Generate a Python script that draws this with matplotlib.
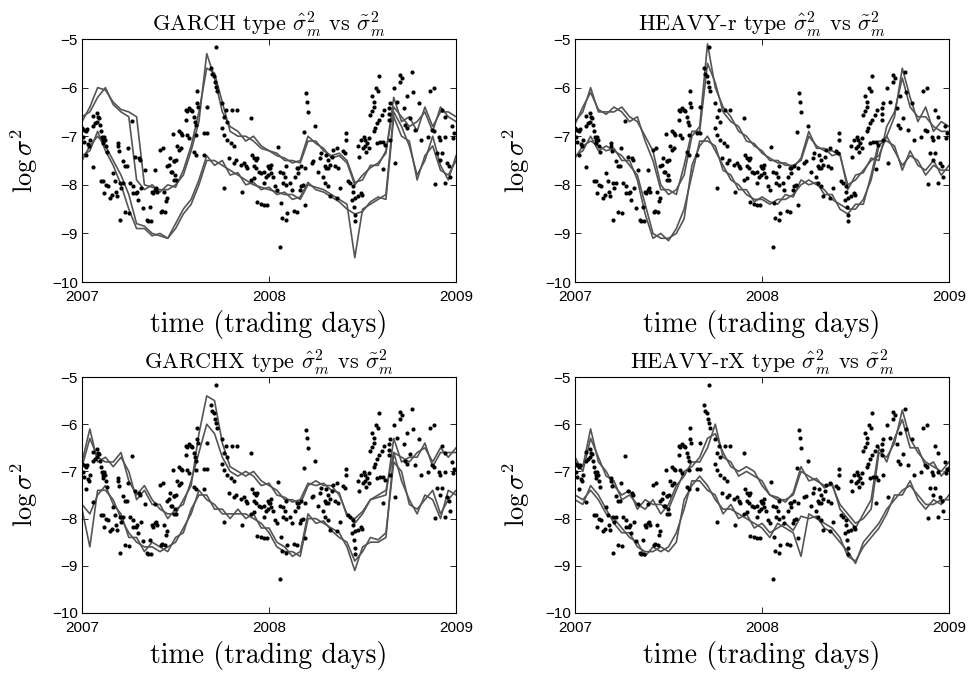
import numpy as np
import matplotlib
matplotlib.use('Agg')
import matplotlib.pyplot as plt

plt.rcParams['mathtext.fontset'] = 'cm'
plt.rcParams['font.family'] = ['Liberation Sans', 'DejaVu Sans']

# time axis: years since start of 2007, half-month grid
year_labels = ['2007', '2008', '2009']
t_grid = np.arange(49) / 24.0

titles = ['GARCH', 'HEAVY-r', 'GARCHX', 'HEAVY-rX']

# realized measure (dots), (years since 2007, log variance), one list per half year
rv_h1 = [(0.000, -6.84), (0.010, -6.87), (0.020, -6.90), (0.025, -6.86), (0.004, -7.01), (0.011, -7.11),
         (0.021, -7.38), (0.034, -7.16), (0.039, -7.21), (0.043, -7.08), (0.057, -6.79), (0.061, -6.58),
         (0.070, -6.73), (0.078, -6.70), (0.082, -6.53), (0.087, -6.60), (0.093, -6.63), (0.096, -6.77),
         (0.100, -6.90), (0.105, -7.01), (0.111, -7.08), (0.114, -7.14), (0.118, -7.02), (0.123, -7.08),
         (0.128, -7.21), (0.132, -7.32), (0.061, -7.64), (0.100, -7.92), (0.114, -7.93), (0.118, -8.17),
         (0.128, -8.01), (0.141, -8.03), (0.150, -8.27), (0.159, -8.21), (0.168, -7.76), (0.175, -7.93),
         (0.182, -8.14), (0.185, -8.24), (0.191, -7.14), (0.194, -7.21), (0.200, -7.31), (0.203, -7.97),
         (0.203, -8.72), (0.210, -8.07), (0.217, -7.97), (0.221, -7.52), (0.230, -8.55), (0.230, -7.62),
         (0.239, -7.62), (0.248, -7.25), (0.253, -8.58), (0.257, -7.97), (0.265, -6.68), (0.271, -8.03),
         (0.275, -8.17), (0.283, -7.42), (0.289, -8.17), (0.292, -8.14), (0.301, -8.31), (0.306, -7.45),
         (0.310, -7.49), (0.314, -8.07), (0.328, -8.48), (0.337, -7.69), (0.346, -8.72), (0.355, -8.75),
         (0.364, -8.45), (0.367, -8.75), (0.372, -8.14), (0.381, -8.17), (0.390, -8.10), (0.392, -7.69),
         (0.396, -8.07), (0.399, -8.14), (0.417, -7.28), (0.422, -8.55), (0.428, -8.53), (0.435, -7.25),
         (0.438, -8.14), (0.442, -8.55), (0.449, -8.34), (0.453, -8.27), (0.456, -7.62), (0.467, -7.59),
         (0.471, -7.45), (0.474, -7.73), (0.479, -7.73), (0.485, -6.96), (0.492, -7.52), (0.497, -7.79)]
rv_h2 = [(0.715, -5.16), (0.688, -5.60), (0.697, -5.71), (0.706, -5.77), (0.709, -5.88), (0.715, -5.98),
         (0.617, -6.08), (0.724, -6.08), (0.750, -6.32), (0.554, -6.46), (0.563, -6.49), (0.572, -6.42),
         (0.581, -6.46), (0.590, -6.49), (0.554, -6.66), (0.599, -6.60), (0.602, -6.70), (0.608, -6.77),
         (0.617, -6.32), (0.620, -6.39), (0.670, -6.39), (0.759, -6.60), (0.768, -6.46), (0.804, -6.46),
         (0.831, -6.46), (0.906, -6.62), (0.777, -6.70), (0.519, -6.90), (0.528, -6.94), (0.537, -6.97),
         (0.563, -6.97), (0.572, -7.04), (0.608, -6.97), (0.652, -6.94), (0.670, -6.94), (0.510, -7.21),
         (0.519, -7.28), (0.528, -7.25), (0.492, -7.52), (0.501, -7.49), (0.492, -7.90), (0.501, -7.90),
         (0.599, -7.32), (0.608, -7.38), (0.652, -7.38), (0.750, -6.84), (0.759, -6.97), (0.777, -7.08),
         (0.795, -7.14), (0.813, -7.21), (0.786, -7.45), (0.813, -7.55), (0.822, -7.49), (0.848, -7.59),
         (0.866, -7.55), (0.875, -7.62), (0.884, -7.66), (0.911, -7.38), (0.920, -7.45), (0.929, -7.49),
         (0.938, -7.45), (0.920, -7.62), (0.929, -7.66), (0.947, -7.73), (0.959, -7.76), (0.973, -7.73),
         (0.982, -7.83), (1.000, -7.66), (0.995, -7.79), (0.759, -8.07), (0.857, -8.14), (0.938, -8.36),
         (0.955, -8.39), (0.973, -8.41), (0.991, -8.42), (0.902, -7.90), (0.920, -7.86), (0.973, -7.97)]
rv_h3 = [(1.200, -6.12), (1.205, -6.29), (1.209, -6.51), (1.245, -6.79), (1.187, -6.92), (1.414, -6.94),
         (1.409, -7.08), (1.494, -7.08), (1.503, -7.25), (1.476, -7.21), (1.480, -7.42), (1.048, -7.23),
         (0.995, -7.62), (1.004, -7.66), (1.013, -7.59), (1.009, -7.76), (1.022, -7.83), (1.031, -8.03),
         (1.040, -8.10), (1.075, -7.76), (1.084, -7.83), (1.075, -7.97), (1.093, -8.00), (1.093, -7.62),
         (1.057, -7.73), (1.111, -7.97), (1.120, -8.10), (1.138, -7.83), (1.147, -7.66), (1.155, -7.66),
         (1.155, -7.76), (1.173, -7.62), (1.191, -7.66), (1.164, -8.10), (1.173, -8.03), (1.182, -8.00),
         (1.191, -8.42), (1.066, -8.38), (1.098, -8.57), (1.134, -8.53), (1.152, -8.55), (1.070, -8.68),
         (1.093, -8.72), (1.057, -9.27), (1.227, -7.55), (1.236, -7.52), (1.271, -7.45), (1.280, -7.35),
         (1.307, -7.38), (1.316, -7.49), (1.325, -7.59), (1.334, -7.42), (1.298, -7.62), (1.307, -7.66),
         (1.316, -7.66), (1.262, -7.73), (1.289, -7.83), (1.298, -7.97), (1.316, -8.03), (1.325, -8.24),
         (1.343, -7.28), (1.361, -7.25), (1.352, -7.62), (1.369, -7.66), (1.378, -8.07), (1.361, -8.27),
         (1.396, -7.31), (1.405, -7.35), (1.423, -7.93), (1.432, -7.97), (1.450, -8.03), (1.449, -8.14),
         (1.441, -8.31), (1.455, -8.45), (1.462, -8.27), (1.462, -8.75), (1.476, -8.24), (1.494, -8.17),
         (1.458, -8.62)]
rv_h4 = [(1.586, -5.77), (1.572, -6.01), (1.583, -6.08), (1.702, -5.74), (1.711, -5.81), (1.702, -5.88),
         (1.764, -5.67), (1.666, -6.01), (1.770, -6.10), (1.550, -6.18), (1.559, -6.29), (1.559, -6.39),
         (1.550, -6.49), (1.542, -6.56), (1.613, -6.46), (1.604, -6.56), (1.586, -6.66), (1.577, -6.73),
         (1.568, -6.84), (1.559, -6.90), (1.640, -6.42), (1.649, -6.32), (1.643, -6.54), (1.684, -6.29),
         (1.720, -6.42), (1.738, -6.18), (1.804, -6.32), (1.862, -6.08), (1.880, -6.01), (1.925, -6.46),
         (1.533, -7.04), (1.524, -7.14), (1.515, -7.21), (1.533, -7.25), (1.518, -7.32), (1.511, -7.08),
         (1.506, -7.01), (1.497, -8.21), (1.577, -7.14), (1.595, -7.11), (1.608, -7.11), (1.622, -7.18),
         (1.649, -7.08), (1.640, -6.66), (1.729, -6.77), (1.738, -6.84), (1.756, -6.63), (1.782, -6.87),
         (1.814, -7.08), (1.608, -7.68), (1.675, -7.55), (1.880, -6.90), (1.871, -6.87), (1.907, -7.01),
         (1.916, -7.08), (1.943, -7.01), (1.978, -6.80), (1.987, -6.94), (1.982, -7.04), (1.925, -7.35),
         (1.916, -7.49), (1.952, -7.55), (1.970, -7.83), (1.939, -7.97), (1.850, -7.01), (1.898, -7.35),
         (1.943, -6.60), (1.964, -7.62), (1.889, -7.98)]

# model fits, four per panel (on t_grid)
garch_1 = [-6.7, -6.4, -6.0, -6.05, -6.3, -6.45, -6.5, -6.6, -8.0, -8.05, -8.1, -8.1, -8.0, -7.8, -7.3, -6.7,
           -5.3, -5.8, -6.5, -6.8, -6.9, -7.1, -7.0, -7.2, -7.3, -7.35, -7.5, -7.5, -7.55, -7.1, -7.1, -7.3,
           -7.4, -7.35, -7.5, -7.95, -7.9, -7.6, -7.6, -7.3, -6.4, -6.6, -6.8, -6.7, -6.5, -6.9, -6.4, -6.6, -6.7]
garch_2 = [-6.6, -6.5, -6.2, -6.0, -6.35, -6.5, -6.6, -7.9, -8.1, -8.0, -8.15, -8.0, -8.05, -7.7, -7.2, -6.5,
           -5.6, -5.7, -6.3, -6.9, -7.0, -7.0, -7.1, -7.25, -7.3, -7.4, -7.45, -7.55, -7.5, -7.0, -7.15, -7.25,
           -7.45, -7.4, -7.55, -8.0, -7.8, -7.65, -7.55, -7.35, -6.2, -6.7, -6.6, -6.9, -6.4, -6.8, -6.5, -6.5, -6.6]
garch_3 = [-7.5, -7.2, -7.0, -7.2, -7.5, -7.8, -8.2, -8.8, -8.85, -9.0, -9.05, -9.1, -8.9, -8.6, -8.4, -8.0,
           -7.5, -7.5, -7.6, -7.7, -7.8, -7.9, -8.0, -8.05, -8.1, -8.15, -8.2, -8.2, -8.3, -8.0, -8.05, -8.1,
           -8.2, -8.3, -8.4, -9.5, -8.5, -8.4, -8.3, -8.2, -6.5, -6.8, -7.2, -7.8, -7.5, -7.0, -7.6, -7.9, -7.4]
garch_4 = [-7.4, -7.3, -6.9, -7.3, -7.6, -8.0, -8.5, -8.9, -8.9, -9.05, -9.0, -9.1, -8.8, -8.5, -8.3, -7.9,
           -7.4, -7.6, -7.5, -7.8, -7.75, -8.0, -7.95, -8.1, -8.05, -8.2, -8.15, -8.3, -8.25, -7.95, -8.1, -8.15,
           -8.25, -8.35, -8.5, -8.6, -8.55, -8.35, -8.25, -8.3, -6.6, -7.0, -7.1, -7.9, -7.4, -7.2, -7.7, -7.8, -7.5]

heavy_1 = [-6.7, -6.5, -6.0, -6.5, -6.5, -6.5, -6.4, -6.6, -6.7, -7.0, -7.3, -8.0, -8.2, -8.1, -7.8, -7.0,
           -6.8, -5.1, -6.0, -6.4, -6.6, -6.9, -7.0, -7.2, -7.3, -7.5, -7.5, -7.6, -7.6, -7.5, -7.0, -7.2,
           -7.3, -7.3, -7.4, -8.0, -7.9, -7.7, -7.5, -7.4, -7.0, -6.6, -5.6, -6.2, -6.7, -6.4, -6.9, -6.7, -6.8]
heavy_2 = [-6.75, -6.4, -6.1, -6.45, -6.55, -6.4, -6.5, -6.7, -6.6, -7.1, -7.5, -8.1, -8.1, -8.2, -7.6, -6.9,
           -6.9, -5.5, -5.9, -6.5, -6.7, -6.8, -7.1, -7.15, -7.35, -7.45, -7.55, -7.55, -7.65, -7.45, -6.9, -7.25,
           -7.25, -7.4, -7.35, -8.1, -7.8, -7.75, -7.45, -7.5, -6.8, -6.5, -5.8, -6.4, -6.6, -6.6, -6.8, -6.9, -6.9]
heavy_3 = [-7.4, -7.3, -7.0, -7.3, -7.2, -7.3, -7.4, -7.6, -7.8, -8.4, -9.0, -9.1, -9.1, -9.0, -8.7, -7.6,
           -7.2, -7.0, -7.3, -7.6, -7.9, -8.0, -8.2, -8.3, -8.3, -8.4, -8.3, -8.3, -8.2, -8.0, -7.9, -8.0,
           -8.1, -8.3, -8.4, -8.5, -8.5, -8.3, -7.9, -7.2, -7.0, -7.3, -7.6, -7.4, -7.5, -7.8, -7.6, -7.7, -7.7]
heavy_4 = [-7.45, -7.2, -7.1, -7.2, -7.3, -7.25, -7.5, -7.5, -7.9, -8.6, -9.1, -9.0, -9.15, -8.9, -8.5, -7.8,
           -7.1, -7.1, -7.2, -7.7, -7.8, -8.1, -8.1, -8.35, -8.25, -8.35, -8.4, -8.2, -8.25, -7.9, -8.0, -7.95,
           -8.2, -8.2, -8.5, -8.6, -8.4, -8.4, -7.8, -7.1, -7.1, -7.2, -7.7, -7.3, -7.6, -7.7, -7.5, -7.8, -7.6]

garchx_1 = [-6.9, -6.3, -6.7, -6.8, -6.8, -6.6, -7.2, -7.5, -7.3, -7.6, -7.8, -7.9, -7.9, -7.6, -7.3, -6.2,
            -5.4, -5.5, -6.4, -6.9, -7.0, -7.1, -7.0, -7.2, -7.3, -7.4, -7.6, -7.6, -7.7, -7.3, -7.2, -7.3,
            -7.3, -7.5, -7.9, -8.1, -7.9, -7.6, -7.5, -7.4, -6.6, -6.7, -6.8, -6.6, -6.5, -6.8, -6.5, -6.7, -6.5]
garchx_2 = [-6.8, -6.1, -6.8, -6.7, -6.9, -6.7, -7.0, -7.6, -7.4, -7.7, -7.7, -8.0, -7.8, -7.7, -7.2, -6.6,
            -6.0, -6.2, -6.7, -7.0, -7.1, -7.0, -7.1, -7.3, -7.25, -7.5, -7.55, -7.65, -7.6, -7.25, -7.3, -7.25,
            -7.4, -7.45, -7.95, -8.0, -7.85, -7.6, -7.55, -7.5, -6.3, -6.8, -6.7, -6.7, -6.4, -6.9, -6.6, -6.6, -6.6]
garchx_3 = [-7.8, -8.6, -7.4, -7.4, -7.6, -8.0, -8.3, -8.5, -8.6, -8.6, -8.7, -8.6, -8.5, -8.2, -7.9, -7.4,
            -7.6, -7.7, -7.9, -7.9, -7.9, -7.9, -8.0, -8.1, -8.3, -8.6, -8.7, -8.7, -8.8, -8.0, -8.0, -8.1,
            -8.2, -8.3, -8.6, -9.1, -8.6, -8.5, -8.5, -8.4, -6.6, -7.2, -7.6, -7.9, -7.5, -7.6, -8.0, -7.4, -7.5]
garchx_4 = [-7.7, -7.9, -7.5, -7.3, -7.7, -7.9, -8.4, -8.4, -8.7, -8.5, -8.6, -8.7, -8.4, -8.3, -7.8, -7.5,
            -7.5, -7.8, -7.8, -8.0, -7.8, -8.0, -7.9, -8.2, -8.2, -8.5, -8.6, -8.8, -8.7, -7.9, -8.1, -8.05,
            -8.25, -8.4, -8.5, -8.9, -8.7, -8.4, -8.45, -8.3, -6.8, -7.0, -7.7, -7.8, -7.6, -7.4, -7.9, -7.6, -7.4]

heavyx_1 = [-6.8, -6.9, -6.1, -6.8, -7.0, -7.3, -7.5, -7.4, -7.8, -7.6, -7.7, -7.7, -7.8, -7.4, -7.0, -6.9,
            -6.7, -6.3, -6.2, -6.6, -6.9, -7.0, -6.9, -7.0, -7.3, -7.5, -7.6, -7.6, -7.5, -7.0, -7.1, -7.2,
            -7.3, -7.3, -7.7, -7.9, -8.1, -8.0, -7.8, -6.6, -6.7, -6.4, -5.7, -6.3, -6.6, -6.8, -6.9, -7.0, -6.8]
heavyx_2 = [-6.7, -7.0, -6.3, -6.7, -7.1, -7.2, -7.6, -7.5, -7.7, -7.8, -7.6, -7.9, -7.7, -7.3, -7.1, -6.8,
            -6.8, -6.5, -6.0, -6.7, -6.8, -7.1, -7.0, -7.1, -7.2, -7.5, -7.55, -7.65, -7.45, -6.9, -7.2, -7.15,
            -7.35, -7.25, -7.8, -8.0, -8.2, -7.9, -7.6, -6.5, -6.8, -6.3, -5.9, -6.5, -6.5, -6.9, -6.8, -7.1, -6.9]
heavyx_3 = [-7.6, -7.7, -7.3, -7.5, -7.8, -8.1, -8.3, -8.3, -8.6, -8.7, -8.7, -8.6, -8.7, -8.5, -7.6, -7.3,
            -7.1, -7.3, -7.6, -7.8, -7.8, -7.9, -8.0, -8.1, -8.2, -8.4, -8.1, -8.2, -8.3, -8.8, -7.9, -8.0,
            -8.1, -8.2, -8.4, -8.8, -8.9, -8.6, -8.4, -8.2, -7.9, -7.5, -7.5, -7.2, -7.6, -7.8, -7.6, -7.7, -7.5]
heavyx_4 = [-7.5, -7.6, -7.4, -7.6, -7.9, -8.0, -8.2, -8.4, -8.5, -8.8, -8.6, -8.7, -8.6, -8.3, -7.8, -7.2,
            -7.2, -7.4, -7.5, -7.9, -7.7, -8.0, -7.9, -8.2, -8.1, -8.3, -8.2, -8.1, -8.25, -7.95, -8.0, -7.95,
            -8.2, -8.3, -8.5, -8.7, -8.95, -8.5, -8.3, -8.1, -7.8, -7.6, -7.4, -7.3, -7.5, -7.7, -7.7, -7.6, -7.6]

fits = [[garch_1, garch_2, garch_3, garch_4],
        [heavy_1, heavy_2, heavy_3, heavy_4],
        [garchx_1, garchx_2, garchx_3, garchx_4],
        [heavyx_1, heavyx_2, heavyx_3, heavyx_4]]

rv = rv_h1 + rv_h2 + rv_h3 + rv_h4
rv_t = [p[0] for p in rv]
rv_v = [p[1] for p in rv]

fig = plt.figure(figsize=(9.71, 6.82), dpi=100)
boxes = [[0.0845, 0.5865, 0.3852, 0.3563],
         [0.5922, 0.5865, 0.3852, 0.3563],
         [0.0845, 0.1012, 0.3852, 0.3460],
         [0.5922, 0.1012, 0.3852, 0.3460]]

for i in range(4):
    ax = fig.add_axes(boxes[i])
    for f in fits[i]:
        ax.plot(t_grid, f, color='#555555', lw=1.2)
    ax.plot(rv_t, rv_v, 'o', color='k', ms=3.0, mew=0)
    ax.set_xlim(0, 2)
    ax.set_ylim(-10, -5)
    ax.set_xticks([0, 1, 2])
    ax.set_xticklabels(year_labels)
    ax.set_yticks([-10, -9, -8, -7, -6, -5])
    ax.tick_params(direction='in', top=True, right=True, length=4, width=0.6,
                   labelsize=11)
    ax.tick_params(axis='x', pad=6)
    ax.tick_params(axis='y', pad=3)
    for s in ax.spines.values():
        s.set_linewidth(0.8)
    ax.set_title(titles[i] + r' type $\hat{\sigma}^2_m$ vs $\tilde{\sigma}^2_m$',
                 fontsize=16, family='cmr10', pad=6)
    ax.set_xlabel('time (trading days)', fontsize=20, family='cmr10', labelpad=4)
    ax.set_ylabel(r'$\log\sigma^2$', fontsize=19, labelpad=9)

fig.savefig('out.png', dpi=100)
